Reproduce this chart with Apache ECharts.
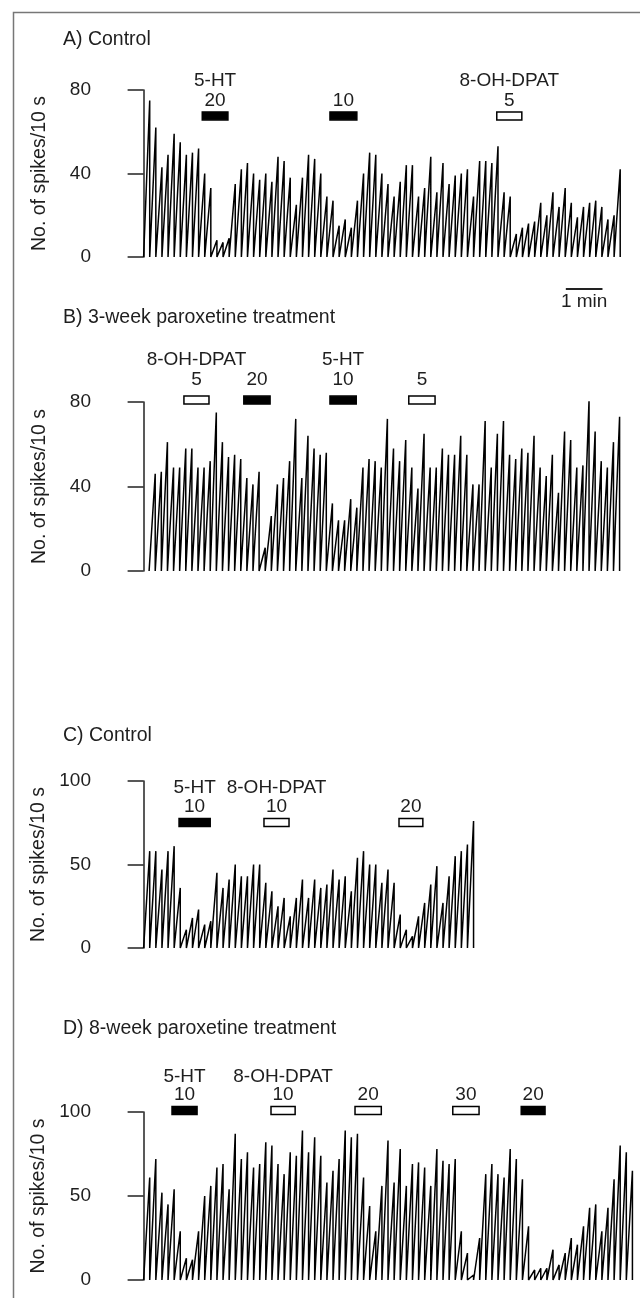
<!DOCTYPE html>
<html>
<head>
<meta charset="utf-8">
<script src="https://cdn.jsdelivr.net/npm/echarts@6/dist/echarts.min.js"></script>
<style>
    html, body { margin: 0; padding: 0; background: #fff; }
    #chart { width: 640px; height: 1298px; }
</style>
</head>
<body>
<div id="chart"></div>
<script>
(function () {

    "use strict";

    // Spikes per 10 s bin
    const ratesA = [75, 62, 43, 49, 59, 55, 49, 50, 52, 40, 33, 8, 7, 9, 35, 42, 45, 40, 37, 40,
        36, 48, 46, 38, 25, 38, 49, 47, 40, 29, 27, 15, 18, 14, 27, 40, 50, 49, 40, 35,
        29, 36, 44, 44, 29, 33, 48, 31, 45, 35, 39, 40, 42, 29, 46, 46, 45, 53, 31, 29,
        11, 14, 16, 17, 26, 20, 31, 24, 33, 26, 19, 24, 26, 27, 24, 18, 20, 42];
    const ratesB = [46, 47, 61, 49, 49, 58, 58, 49, 49, 52, 75, 61, 54, 55, 53, 44, 41, 47, 11, 26,
        41, 44, 52, 72, 44, 64, 58, 55, 56, 32, 24, 24, 34, 30, 49, 53, 52, 49, 72, 58,
        52, 62, 49, 39, 65, 49, 49, 58, 55, 55, 64, 55, 41, 41, 71, 49, 65, 71, 55, 53,
        58, 56, 64, 49, 45, 55, 37, 66, 62, 49, 50, 81, 66, 52, 49, 61, 73];
    const ratesC = [58, 58, 47, 58, 61, 36, 11, 18, 23, 14, 16, 45, 36, 41, 50, 43, 43, 50, 50, 39,
        34, 25, 30, 19, 30, 41, 30, 41, 36, 38, 47, 41, 43, 34, 54, 58, 50, 50, 39, 47,
        39, 20, 11, 7, 19, 27, 38, 49, 27, 43, 55, 58, 62, 76];
    const ratesD = [61, 72, 52, 45, 54, 29, 13, 12, 29, 50, 56, 67, 69, 54, 87, 72, 76, 67, 69, 82,
        80, 69, 63, 76, 74, 89, 76, 85, 74, 58, 65, 72, 89, 85, 87, 61, 44, 29, 56, 83,
        58, 78, 56, 69, 70, 67, 56, 78, 71, 69, 72, 29, 16, 3, 25, 63, 69, 63, 61, 78,
        72, 60, 32, 6, 7, 7, 18, 9, 16, 25, 21, 32, 43, 45, 29, 43, 60, 80, 76, 65];

    // Recording start, in bins, on the shared time axis
    const startBin = [0, 0.9, 0, 0];

    // Drug applications: [from bin, to bin, filled (1) or open (0)]
    const drugsA = [[9.6, 13.8, 1], [30.5, 34.9, 1], [57.8, 61.9, 0]];
    const drugNamesA = ['5-HT', '', '8-OH-DPAT'];
    const drugDosesA = ['20', '10', '5'];

    const drugsB = [[6.6, 10.7, 0], [16.4, 20.7, 1], [30.5, 34.8, 1], [43.4, 47.7, 0]];
    const drugNamesB = ['8-OH-DPAT', '', '5-HT', ''];
    const drugDosesB = ['5', '20', '10', '5'];

    const drugsC = [[5.8, 10.9, 1], [19.7, 23.8, 0], [41.8, 45.7, 0]];
    const drugNamesC = ['5-HT', '8-OH-DPAT', ''];
    const drugDosesC = ['10', '10', '20'];

    const drugsD = [[4.65, 8.75, 1], [20.85, 24.8, 0], [34.6, 38.9, 0], [50.6, 54.9, 0], [61.8, 65.7, 1]];
    const drugNamesD = ['5-HT', '8-OH-DPAT', '', '', ''];
    const drugDosesD = ['10', '10', '20', '30', '20'];

    const panelTitles = ['A) Control', 'B) 3-week paroxetine treatment', 'C) Control', 'D) 8-week paroxetine treatment'];
    const yMax = [80, 80, 100, 100];
    const yInterval = [40, 40, 50, 50];

    // 1 min = 6 bins
    const scaleBar = [[69.1, 75.1]];

    // ---- layout ----
    const FONT = '"Liberation Sans", Arial, Helvetica, sans-serif';
    const TEXT = '#1e1e1e';
    const XMIN = -4.19, XMAX = 81.24;
    const gridTop = [90, 402, 781, 1112];
    const gridHeight = [167, 169, 167, 168];
    const titleTop = [30, 308, 726, 1019];
    const drugLevel = [67.6, 80.9, 75.1, 100.9];
    const doseDy = [-15.5, -20.5, -15.5, -15.5];
    const nameDy = [-35, -40, -35, -34];

    const chart = echarts.init(document.getElementById('chart'), null, {renderer: 'canvas'});

    function trace(rates, start) {
        const pts = [[start, 0]];
        rates.forEach(function (v, i) {
            pts.push([start + i + 1, v]);
            pts.push([start + i + 1, 0]);
        });
        return pts;
    }

    function drugRenderer(names, doses, p) {
        return function (params, api) {
            const a = api.coord([api.value(0), drugLevel[p]]);
            const b = api.coord([api.value(1), drugLevel[p]]);
            const cx = (a[0] + b[0]) / 2;
            const i = params.dataIndex;
            const children = [{
                type: 'rect',
                shape: {x: a[0], y: a[1] - 4, width: b[0] - a[0], height: 8},
                style: {fill: api.value(2) === 1 ? '#000' : '#fff', stroke: '#000', lineWidth: 1.5}
            }];
            if (doses[i]) {
                children.push({type: 'text', style: {text: doses[i], x: cx, y: a[1] + doseDy[p],
                    align: 'center', verticalAlign: 'middle', fontSize: 19, fontFamily: FONT, fill: TEXT}});
            }
            if (names[i]) {
                children.push({type: 'text', style: {text: names[i], x: cx, y: a[1] + nameDy[p],
                    align: 'center', verticalAlign: 'middle', fontSize: 19, fontFamily: FONT, fill: TEXT}});
            }
            return {type: 'group', children: children};
        };
    }

    const rates = [ratesA, ratesB, ratesC, ratesD];
    const drugs = [drugsA, drugsB, drugsC, drugsD];
    const drugNames = [drugNamesA, drugNamesB, drugNamesC, drugNamesD];
    const drugDoses = [drugDosesA, drugDosesB, drugDosesC, drugDosesD];

    const grid = [], xAxis = [], yAxis = [], series = [], title = [];

    for (let p = 0; p < 4; p++) {
        grid.push({left: 118, width: 522, top: gridTop[p], height: gridHeight[p], outerBoundsMode: 'none'});
        xAxis.push({type: 'value', gridIndex: p, min: XMIN, max: XMAX, show: false});
        yAxis.push({
            type: 'value', gridIndex: p, min: 0, max: yMax[p], interval: yInterval[p],
            name: 'No. of spikes/10 s', nameLocation: 'middle', nameGap: 68,
            nameTextStyle: {fontSize: 19.5, fontFamily: FONT, color: TEXT},
            axisLine: {show: true, lineStyle: {color: '#222', width: 1.5}},
            axisTick: {show: true, length: 16, lineStyle: {color: '#222', width: 1.5}},
            axisLabel: {margin: 27, fontSize: 19, fontFamily: FONT, color: TEXT},
            splitLine: {show: false}
        });
        title.push({
            text: panelTitles[p], left: 63, top: titleTop[p], padding: 0,
            textStyle: {fontSize: 19.5, fontWeight: 'normal', fontFamily: FONT, color: TEXT}
        });
        series.push({
            type: 'line', xAxisIndex: p, yAxisIndex: p,
            data: trace(rates[p], startBin[p]),
            showSymbol: false, symbol: 'none',
            lineStyle: {color: '#000', width: 1.5},
            silent: true, animation: false
        });
        series.push({
            type: 'custom', xAxisIndex: p, yAxisIndex: p,
            data: drugs[p], encode: {x: [0, 1]}, clip: false,
            renderItem: drugRenderer(drugNames[p], drugDoses[p], p),
            silent: true, animation: false
        });
    }

    // 1 min scale bar under panel A
    series.push({
        type: 'custom', xAxisIndex: 0, yAxisIndex: 0,
        data: scaleBar, encode: {x: [0, 1]}, clip: false,
        renderItem: function (params, api) {
            const a = api.coord([api.value(0), 0]);
            const b = api.coord([api.value(1), 0]);
            const y = a[1] + 32;
            return {type: 'group', children: [
                {type: 'line', shape: {x1: a[0], y1: y, x2: b[0], y2: y}, style: {stroke: '#222', lineWidth: 2}},
                {type: 'text', style: {text: '1 min', x: (a[0] + b[0]) / 2, y: y + 13, align: 'center',
                    verticalAlign: 'middle', fontSize: 19, fontFamily: FONT, fill: TEXT}}
            ]};
        },
        silent: true, animation: false
    });

    chart.setOption({
        backgroundColor: '#fff',
        animation: false,
        title: title,
        grid: grid,
        xAxis: xAxis,
        yAxis: yAxis,
        series: series,
        graphic: [{
            type: 'rect', left: 11, top: 10, silent: true,
            shape: {width: 700, height: 1400},
            style: {fill: 'none', stroke: '#777', lineWidth: 1.5}
        }]
    });

})();
</script>
</body>
</html>
